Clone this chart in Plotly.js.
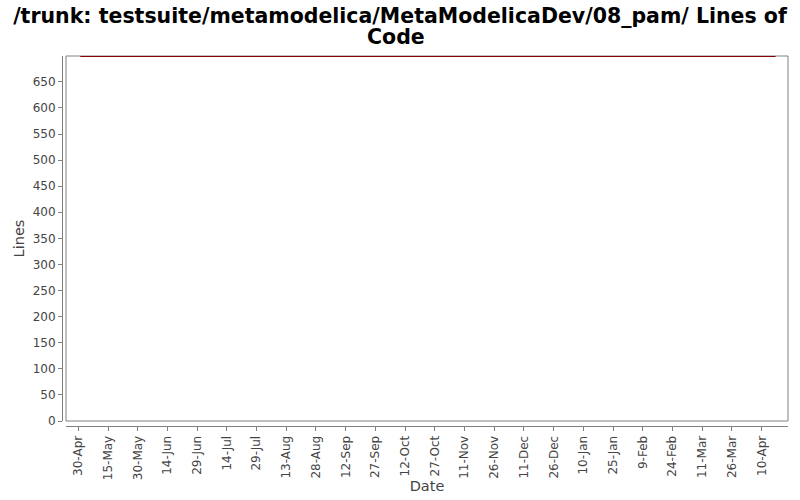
<!DOCTYPE html>
<html>
<head>
<meta charset="utf-8">
<script src="https://cdn.plot.ly/plotly-3.0.1.min.js"></script>
<style>html,body{margin:0;padding:0;background:#fff;}#chart{width:800px;height:500px;}</style>
</head>
<body>
<div id="chart"></div>
<script>
// Data
const dates = ["2010-05-01", "2011-04-17"];
const lines = [699, 699];
const titleLine1 = "/trunk: testsuite/metamodelica/MetaModelicaDev/08_pam/ Lines of";
const titleLine2 = "Code";
const xTitle = "Date";
const yTitle = "Lines";

const plotW = 726, plotH = 370;
const gridFont = {family: "DejaVu Sans, sans-serif", size: 12, color: "#444444"};
const titleFont = {family: "DejaVu Sans, sans-serif", size: 20.5, color: "#000000", weight: "bold"};

const trace = {
  x: dates, y: lines, type: "scatter", mode: "lines",
  line: {color: "#880000", width: 1.5}, hoverinfo: "skip", showlegend: false
};

const layout = {
  width: 800, height: 500,
  paper_bgcolor: "#ffffff", plot_bgcolor: "#ffffff",
  margin: {l: 62, r: 12, t: 56, b: 74},
  title: {
    text: titleLine1,
    font: titleFont,
    x: 0.5, xanchor: "center", xref: "container", yref: "container",
    y: 1 - 16 / 500, yanchor: "middle"
  },
  annotations: [{
    text: titleLine2, font: titleFont, showarrow: false,
    xref: "paper", yref: "paper",
    x: (400 - 66) / plotW + 4 / plotW * 0, xanchor: "center",
    y: 1 + (56 - 37) / plotH, yanchor: "middle"
  }],
  xaxis: {
    type: "date",
    domain: [4 / plotW, 1],
    anchor: "free", position: 0,
    range: ["2010-04-23 19:00", "2011-04-23 07:00"],
    tick0: "2010-04-30", dtick: 15 * 86400000,
    tickformat: "%-d-%b", tickangle: -90,
    ticks: "outside", ticklen: 4, tickcolor: "#808080",
    showline: true, linecolor: "#808080", linewidth: 1,
    showgrid: false, zeroline: false,
    tickfont: gridFont,
    title: {text: xTitle, font: {family: "DejaVu Sans, sans-serif", size: 14.5, color: "#444444"}, standoff: 1}
  },
  yaxis: {
    domain: [5 / plotH, 1],
    anchor: "free", position: 0,
    range: [0, 699.5],
    tick0: 0, dtick: 50,
    ticks: "outside", ticklen: 4, tickcolor: "#808080",
    showline: true, linecolor: "#808080", linewidth: 1,
    showgrid: false, zeroline: false,
    tickfont: gridFont,
    title: {text: yTitle, font: {family: "DejaVu Sans, sans-serif", size: 14.5, color: "#444444"}, standoff: 3}
  },
  shapes: [{
    type: "rect", xref: "paper", yref: "paper",
    x0: 4 / plotW, x1: 1, y0: 5 / plotH, y1: 1,
    line: {color: "#808080", width: 1}, fillcolor: "rgba(0,0,0,0)", layer: "below"
  }]
};

Plotly.newPlot("chart", [trace], layout, {staticPlot: true, displayModeBar: false});
</script>
</body>
</html>
